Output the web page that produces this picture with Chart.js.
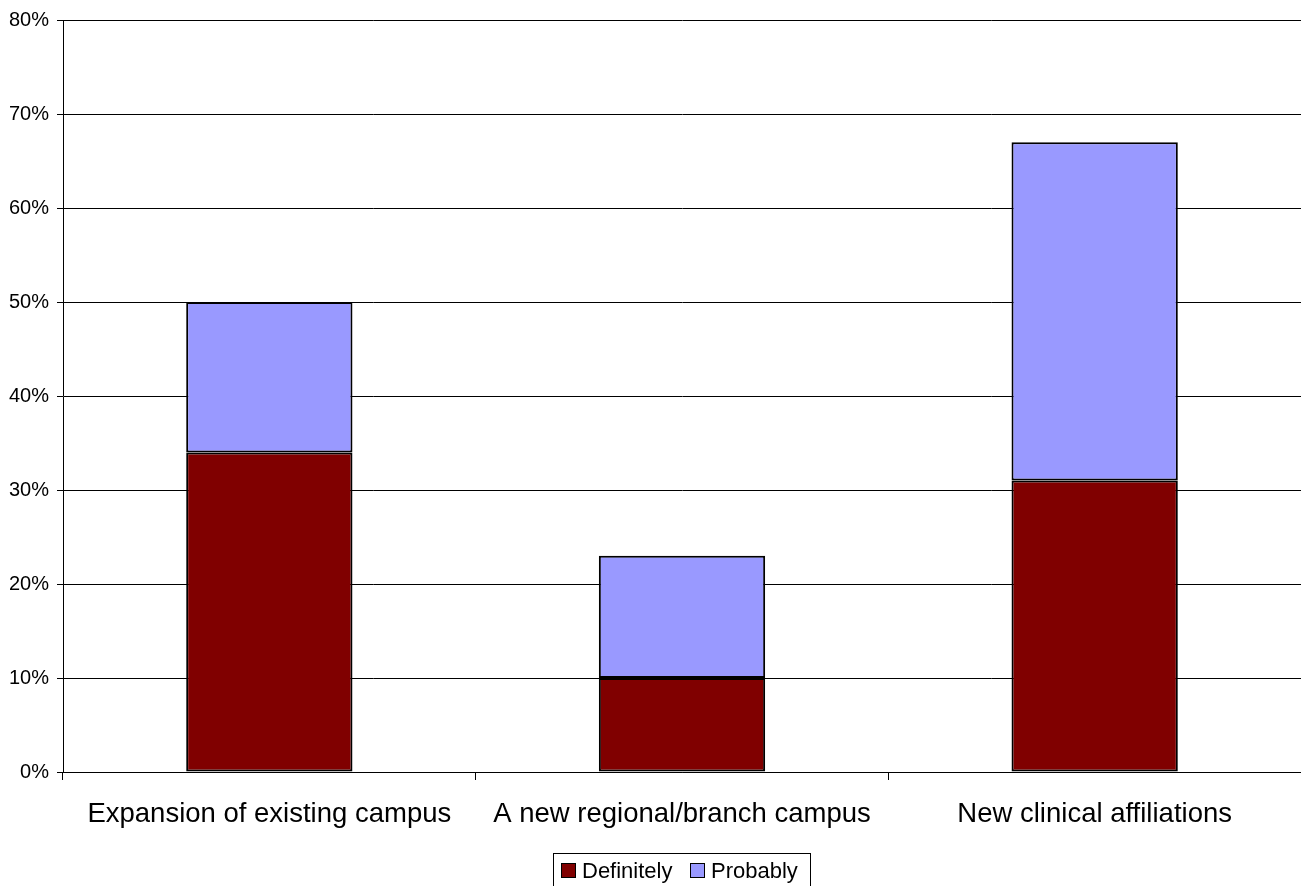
<!DOCTYPE html>
<html>
<head>
<meta charset="utf-8">
<script src="https://cdn.jsdelivr.net/npm/chart.js@4/dist/chart.umd.min.js"></script>
<style>
  html, body { margin: 0; padding: 0; background: #fff; }
  #wrap { width: 1301px; height: 886px; position: relative; }
</style>
</head>
<body>
<div id="wrap"><canvas id="c" width="1301" height="886"></canvas></div>
<script>
const categories = ["Expansion of existing campus", "A new regional/branch campus", "New clinical affiliations"];
const definitely = [34, 10, 31];
const probably = [16, 13, 36];
const seriesNames = ["Definitely", "Probably"];
const yTicks = [0, 10, 20, 30, 40, 50, 60, 70, 80];

const FONT = "'Liberation Sans', Arial, sans-serif";

const legendPlugin = {
  id: 'boxLegend',
  afterDraw(chart) {
    const ctx = chart.ctx;
    ctx.save();
    ctx.strokeStyle = '#000';
    ctx.lineWidth = 1;
    ctx.strokeRect(553.5, 853.5, 257, 40);
    ctx.font = "22px " + FONT;
    ctx.textBaseline = 'alphabetic';
    const xs = [561, 690];
    chart.data.datasets.forEach((ds, i) => {
      const x = xs[i];
      ctx.fillStyle = ds.backgroundColor;
      ctx.fillRect(x, 863, 15, 15);
      ctx.strokeStyle = '#000';
      ctx.lineWidth = 1;
      ctx.strokeRect(x + 0.5, 863.5, 14, 14);
      ctx.fillStyle = '#000';
      ctx.fillText(ds.label, x + 21, 878);
    });
    ctx.restore();
  }
};

new Chart(document.getElementById('c'), {
  type: 'bar',
  data: {
    labels: categories,
    datasets: [
      { label: seriesNames[0], data: definitely, backgroundColor: '#800000', borderColor: '#000', borderWidth: 2, borderSkipped: false },
      { label: seriesNames[1], data: probably, backgroundColor: '#9999FF', borderColor: '#000', borderWidth: 2, borderSkipped: false }
    ]
  },
  options: {
    responsive: false,
    animation: false,
    events: [],
    layout: { padding: { top: 20, right: 0, left: 0, bottom: 0 } },
    datasets: { bar: { categoryPercentage: 1.0, barPercentage: 0.403 } },
    plugins: { legend: { display: false }, tooltip: { enabled: false } },
    scales: {
      x: {
        stacked: true,
        afterFit(scale) { scale.height = 114; },
        grid: { offset: true, drawOnChartArea: false, drawTicks: true, tickLength: 8, tickColor: '#000' },
        border: { color: '#000', width: 1 },
        ticks: { color: '#000', font: { family: FONT, size: 27.5 }, padding: 18, maxRotation: 0, autoSkip: false }
      },
      y: {
        stacked: true,
        min: 0,
        max: 80,
        afterFit(scale) { scale.width = 63; },
        afterBuildTicks(scale) { scale.ticks = yTicks.map(v => ({ value: v })); },
        grid: { color: '#000', lineWidth: 1, drawTicks: true, tickLength: 6, tickColor: '#000' },
        border: { color: '#000', width: 1 },
        ticks: { color: '#000', font: { family: FONT, size: 20 }, padding: 8, callback: v => v + '%' }
      }
    }
  },
  plugins: [legendPlugin]
});
</script>
</body>
</html>
